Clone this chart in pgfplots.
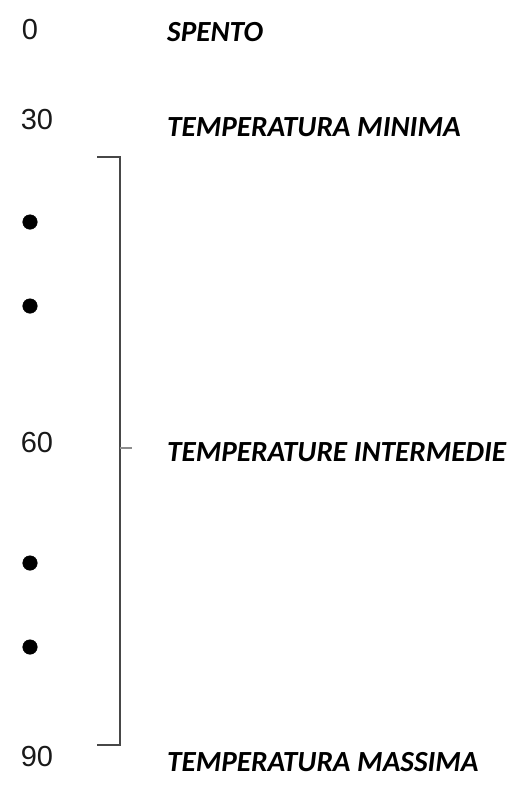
\documentclass[border=0pt]{standalone}
\usepackage{fontspec}
\setmainfont{Carlito}
\newfontfamily\arial{Liberation Sans}
\usepackage{pgfplots}
\pgfplotsset{compat=1.18}
\begin{document}
\begin{tikzpicture}
\begin{axis}[name=ax,
  scale only axis, width=512pt, height=785pt,
  xmin=0, xmax=512, ymin=0, ymax=785, y dir=reverse,
  hide axis, clip=false]
% bracket
\addplot[draw=black!72, line width=1.8pt, line join=miter] coordinates {(97,157) (120,157) (120,745) (97,745)};
% tick
\addplot[draw=black!45, line width=1.4pt] coordinates {(120,448) (132,448)};
% dots
\addplot[only marks, mark=*, mark size=7.3pt, black] coordinates {(30,222) (30,306) (30,563) (30,647)};
% numbers
\node[anchor=center, font=\arial\fontsize{29}{29}\selectfont, text=black!90] at (axis cs:30,30) {0};
\node[anchor=center, font=\arial\fontsize{29}{29}\selectfont, text=black!90] at (axis cs:37,120) {30};
\node[anchor=center, font=\arial\fontsize{29}{29}\selectfont, text=black!90] at (axis cs:37,443) {60};
\node[anchor=center, font=\arial\fontsize{29}{29}\selectfont, text=black!90] at (axis cs:37,757) {90};
% labels
\node[anchor=west, inner sep=0pt, font=\fontsize{29.2}{29}\selectfont\bfseries\itshape] at (axis cs:167,32) {SPENTO};
\node[anchor=west, inner sep=0pt, font=\fontsize{29.2}{29}\selectfont\bfseries\itshape] at (axis cs:167,127) {TEMPERATURA MINIMA};
\node[anchor=west, inner sep=0pt, font=\fontsize{29.2}{29}\selectfont\bfseries\itshape] at (axis cs:167,452) {TEMPERATURE INTERMEDIE};
\node[anchor=west, inner sep=0pt, font=\fontsize{29.2}{29}\selectfont\bfseries\itshape] at (axis cs:167,762) {TEMPERATURA MASSIMA};
\end{axis}
\pgfresetboundingbox
\path (ax.south west) rectangle (ax.north east);
\end{tikzpicture}
\end{document}
